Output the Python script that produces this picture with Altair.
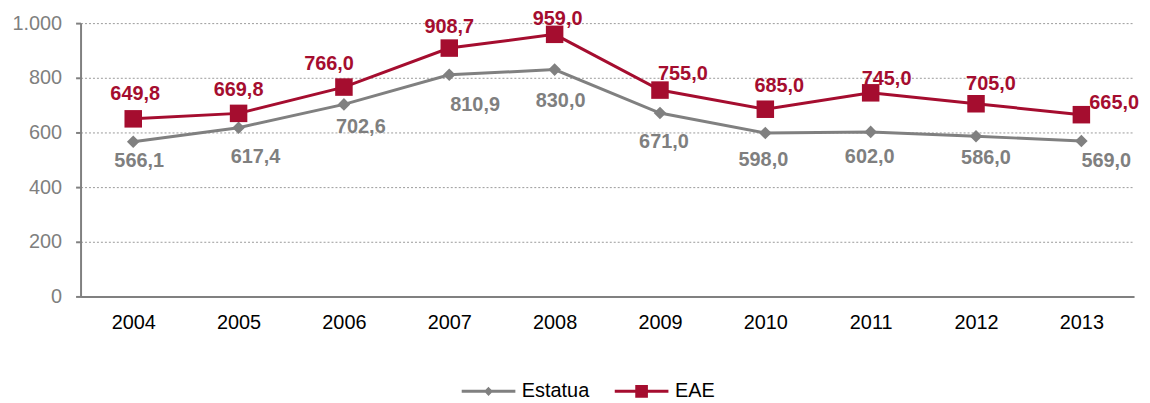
import altair as alt
import pandas as pd

years = ["2004", "2005", "2006", "2007", "2008", "2009", "2010", "2011", "2012", "2013"]
estatua = [566.1, 617.4, 702.6, 810.9, 830.0, 671.0, 598.0, 602.0, 586.0, 569.0]
eae = [649.8, 669.8, 766.0, 908.7, 959.0, 755.0, 685.0, 745.0, 705.0, 665.0]
y_ticks = [0, 200, 400, 600, 800, 1000]


def fmt(v):
    return f"{v:.1f}".replace(".", ",")


rows = []
for yr, a, b in zip(years, estatua, eae):
    rows.append({"urtea": yr, "serie": "Estatua", "balioa": a, "label": fmt(a)})
    rows.append({"urtea": yr, "serie": "EAE", "balioa": b, "label": fmt(b)})
df = pd.DataFrame(rows)

FONT = "Liberation Sans"
RED = "#A50D2F"
GRAY = "#808080"
LABEL_GRAY = "#7F7F7F"

# label offsets (style): dx, dy relative to point
eae_off = [(2, -25), (0, -23), (-15, -23), (0, -21), (3, -15), (23, -16), (14, -23), (16, -14), (15, -20), (33, -12)]
est_off = [(6, 19), (17, 30), (17, 23), (26, 30), (6, 32), (4, 29), (-2, 27), (-1, 25), (10, 22), (25, 20)]

x_enc = alt.X(
    "urtea:O",
    scale=alt.Scale(type="point", padding=0.5),
    axis=alt.Axis(
        title=None, labelAngle=0, ticks=False, labelFontSize=20, labelFont=FONT,
        labelColor="#000000", labelPadding=16, domainColor=GRAY, domainWidth=2,
    ),
)
y_enc = alt.Y(
    "balioa:Q",
    scale=alt.Scale(domain=[0, 1000]),
    axis=alt.Axis(
        title=None, values=y_ticks,
        labelExpr="replace(format(datum.value, ','), ',', '.')",
        grid=True, gridDash=[2, 2], gridColor="#9A9A9A", gridWidth=1,
        tickSize=5, tickColor=GRAY, tickWidth=2, domainColor=GRAY, domainWidth=2,
        labelFontSize=20, labelFont=FONT, labelColor=LABEL_GRAY, labelPadding=14,
    ),
)

base = alt.Chart(df)


def line_layer(name, color, path, lx):
    return base.transform_filter(f"datum.serie == '{name}'").mark_line(strokeWidth=3).encode(
        x=x_enc,
        y=y_enc,
        color=alt.Color(
            "serie:N",
            scale=alt.Scale(domain=[name], range=[color]),
            legend=alt.Legend(
                title=None, orient="none", legendX=lx, legendY=342, padding=0,
                symbolType=path, symbolSize=2916, symbolStrokeWidth=3,
                symbolStrokeColor=color, symbolFillColor=color,
                labelFontSize=20, labelFont=FONT, labelColor="#000000", labelOffset=5,
            ),
        ),
    )


lines = [
    line_layer("Estatua", GRAY, "M-1,0H1M0,-0.09L0.09,0L0,0.09L-0.09,0Z", 382),
    line_layer("EAE", RED, "M-1,0H1M-0.18,-0.18H0.18V0.18H-0.18Z", 536),
]

points = [
    base.transform_filter("datum.serie == 'Estatua'").mark_point(
        shape="diamond", filled=True, size=160, color=GRAY, opacity=1
    ).encode(x=x_enc, y=y_enc),
    base.transform_filter("datum.serie == 'EAE'").mark_point(
        shape="square", filled=True, size=310, color=RED, opacity=1
    ).encode(x=x_enc, y=y_enc),
]

labels = []
for name, offs, col in [("Estatua", est_off, LABEL_GRAY), ("EAE", eae_off, RED)]:
    for yr, (dx, dy) in zip(years, offs):
        labels.append(
            base.transform_filter(f"datum.serie == '{name}' && datum.urtea == '{yr}'")
            .mark_text(dx=dx, dy=dy, fontSize=20, fontWeight="bold", font=FONT, color=col,
                       align="center", baseline="middle")
            .encode(x=x_enc, y=y_enc, text="label:N")
        )

chart = (
    alt.layer(*lines, *points, *labels)
    .resolve_scale(color="independent")
    .resolve_legend(color="independent")
    .properties(
        width=1060, height=275,
        padding={"left": 73, "top": 14, "right": 8, "bottom": 106},
        autosize=alt.AutoSizeParams(type="none"),
    )
    .configure_view(stroke=None)
)

chart.save("out.html", embed_options={"renderer": "svg", "actions": False})
